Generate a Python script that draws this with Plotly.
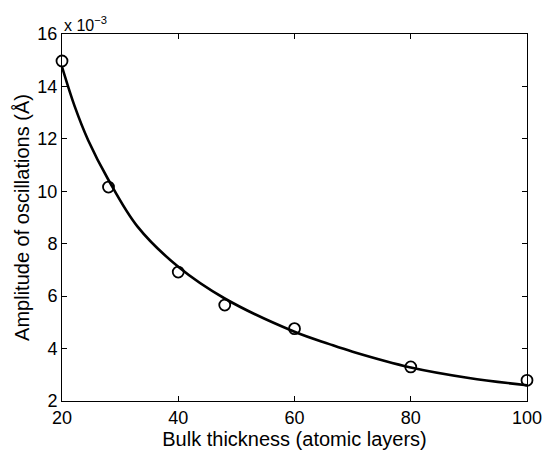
import plotly.graph_objects as go

# Measured amplitudes (units of 1e-3 Å) vs bulk thickness
thickness = [20, 28, 40, 48, 60, 80, 100]
amplitude = [14.97, 10.16, 6.92, 5.66, 4.76, 3.30, 2.79]

# Fitted curve, sampled along its path
fit_x = [20, 22.2, 24.5, 28, 33, 40, 48, 60, 66, 70, 80, 90, 100]
fit_y = [14.75, 13.23, 11.95, 10.43, 8.65, 7.12, 5.91, 4.64, 4.17, 3.88, 3.28, 2.88, 2.60]

x_ticks = [20, 40, 60, 80, 100]
y_ticks = [2, 4, 6, 8, 10, 12, 14, 16]

FONT = "Liberation Sans, Arial, Helvetica, sans-serif"

fig = go.Figure()
fig.add_trace(go.Scatter(
    x=fit_x, y=fit_y, mode="lines",
    line=dict(color="black", width=2.6, shape="spline", smoothing=1.0),
    cliponaxis=False, showlegend=False, hoverinfo="skip",
))
fig.add_trace(go.Scatter(
    x=thickness, y=amplitude, mode="markers",
    marker=dict(symbol="circle-open", size=11, color="black",
                line=dict(color="black", width=1.8)),
    cliponaxis=False, showlegend=False,
))

axis_common = dict(
    showline=True, linecolor="black", linewidth=1, mirror="ticks",
    ticks="inside", ticklen=5, tickwidth=1, tickcolor="black",
    showgrid=False, zeroline=False, automargin=False,
    tickfont=dict(family=FONT, size=18, color="black"),
    title_font=dict(family=FONT, size=20, color="black"),
)

fig.update_xaxes(range=[20, 100], tickvals=x_ticks,
                 title_text="Bulk thickness (atomic layers)", title_standoff=0,
                 **axis_common)
fig.update_yaxes(range=[2, 16], tickvals=y_ticks,
                 title_text="Amplitude of oscillations (Å)", title_standoff=2,
                 **axis_common)

fig.add_annotation(
    text="x 10<sup>−3</sup>", xref="paper", yref="paper",
    x=0, y=1, xanchor="left", yanchor="bottom", showarrow=False,
    font=dict(family=FONT, size=16, color="black"), yshift=-2,
)

fig.update_layout(
    width=551, height=451,
    margin=dict(l=62, r=24, t=34, b=50),
    paper_bgcolor="white", plot_bgcolor="white",
)

fig.write_html("out.html")
